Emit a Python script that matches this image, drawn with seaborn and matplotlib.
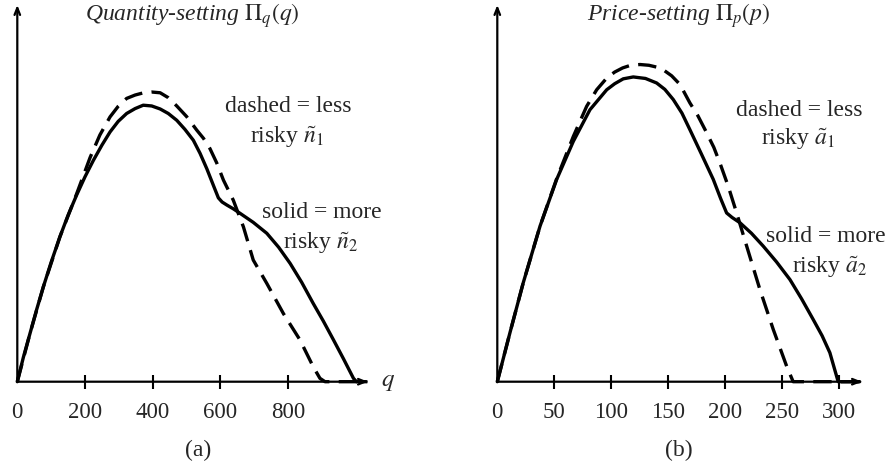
import numpy as np
import matplotlib
matplotlib.use("Agg")
import matplotlib.pyplot as plt
import seaborn as sns

# Values (profit in arbitrary units, axis top = 100)
q_solid = [0, 18, 37.5, 57, 77, 100, 126, 150, 175, 200, 225, 250, 274, 298, 323, 348,
           372, 397, 422, 446, 471, 495, 520, 540, 560, 582, 594, 605, 619, 638, 658,
           697, 737, 772, 806, 840, 874, 904, 934, 964, 993, 1002, 1030]
pi_q_solid = [0, 6.5, 12.8, 19.1, 25.2, 31.7, 38.5, 44.2, 49.5, 54.4, 58.8, 62.8, 66.3,
              69.1, 71.2, 72.5, 73.4, 73.2, 72.4, 71.2, 69.4, 67.0, 64.1, 60.6, 56.5,
              51.5, 48.8, 47.7, 46.9, 45.9, 44.7, 42.3, 39.4, 35.7, 31.4, 26.4, 20.8,
              16.1, 11.1, 6.0, 0.9, 0, 0]
q_dashed = [0, 37.5, 77, 126, 175, 215, 244, 274, 298, 323, 348, 373, 397, 422, 446,
            471, 500, 530, 550, 569, 589, 609, 638, 668, 697, 737, 786, 835, 874, 894,
            909, 1034]
pi_q_dashed = [0, 12.8, 25.2, 38.5, 49.8, 59.5, 65.5, 70.3, 73.1, 75.2, 76.1, 76.7, 76.9,
               76.7, 75.4, 73.2, 70.4, 66.8, 64.6, 61.9, 58.1, 53.5, 48.2, 41.1, 32.3,
               26.1, 18.1, 11.1, 4.0, 0.9, 0, 0]

p_solid = [0, 11.1, 22.8, 37.5, 52.1, 66.7, 81.3, 96, 103, 110.5, 119.3, 130, 139.8,
           147, 154.4, 162, 169, 179, 189.5, 196, 201.2, 206, 212.9, 223, 233.3, 245,
           256.8, 267, 277.2, 285, 291.8, 299.1, 318]
pi_p_solid = [0, 13, 26.3, 41.3, 53.7, 63.8, 72.2, 77.5, 79.1, 80.4, 80.9, 80.5, 79.3,
              77.6, 74.9, 71.3, 66.9, 60.5, 53.7, 48.6, 44.8, 43.6, 42.2, 39.4, 36,
              31.8, 27.1, 22.0, 16.5, 12.2, 7.7, 0, 0]
p_dashed = [0, 11.1, 22.8, 37.5, 52.1, 66.7, 78.4, 87.2, 96, 103, 110, 117, 125.2, 133,
            140, 145.6, 153, 160.3, 169, 176, 183, 190, 196, 202.6, 210, 218.8, 230.4,
            242.1, 253.9, 259.6, 319.6]
pi_p_dashed = [0, 13, 26.3, 41.3, 53.9, 65.1, 73.1, 77.5, 80.6, 82.2, 83.3, 84.0, 84.2,
               84.0, 83.5, 82.8, 81.2, 78.9, 74.0, 70.6, 66.5, 62.2, 57.5, 51.9, 44.8,
               36, 24.5, 13.9, 4.1, 0, 0]

q_ticks = [200, 400, 600, 800]
q_labels = ["0", "200", "400", "600", "800"]
p_ticks = [50, 100, 150, 200, 250, 300]
p_labels = ["0", "50", "100", "150", "200", "250", "300"]

sns.set_style("white")
plt.rcParams['font.family'] = ['Liberation Serif', 'DejaVu Serif']
plt.rcParams['mathtext.fontset'] = 'stix'

W, H = 893, 471
fig = plt.figure(figsize=(W / 100, H / 100), dpi=100)

def fx(px):
    return px / W

def fy(py):
    return 1 - py / H

base, top = 381.7, 5.0
ax_a = fig.add_axes([fx(17.3), fy(base), (368 - 17.3) / W, (base - top) / H])
ax_b = fig.add_axes([fx(497.3), fy(base), (862 - 497.3) / W, (base - top) / H])

panels = [
    (ax_a, q_solid, pi_q_solid, q_dashed, pi_q_dashed, 1036, q_ticks, q_labels),
    (ax_b, p_solid, pi_p_solid, p_dashed, pi_p_dashed, 320, p_ticks, p_labels),
]

for ax, xs, ys, xd, yd, xmax, ticks, labels in panels:
    sns.lineplot(x=xs, y=ys, ax=ax, color="black", lw=2.4, estimator=None,
                 clip_on=False, solid_joinstyle="round")
    sns.lineplot(x=xd, y=yd, ax=ax, color="black", lw=2.4, estimator=None,
                 linestyle=(0, (5.5, 2.8)), clip_on=False)
    ax.set_xlim(0, xmax)
    ax.set_ylim(0, 100)
    for s in ax.spines.values():
        s.set_visible(False)
    ax.set_yticks([])
    ax.set_xticks(ticks)
    ax.set_xticklabels([])
    ax.tick_params(axis="x", direction="inout", length=10, width=1.5, color="black",
                   bottom=True)
    # axis arrows
    ax.annotate("", xy=(1, 0), xytext=(0, 0), xycoords="axes fraction",
                arrowprops=dict(arrowstyle="->,head_length=0.5,head_width=0.2",
                                lw=1.6, color="black", shrinkA=0, shrinkB=0))
    ax.annotate("", xy=(0, 1), xytext=(0, 0), xycoords="axes fraction",
                arrowprops=dict(arrowstyle="->,head_length=0.5,head_width=0.2",
                                lw=1.6, color="black", shrinkA=0, shrinkB=0))
    ax.grid(False)

# tick labels
for ax, ticks, labels in [(ax_a, q_ticks, q_labels), (ax_b, p_ticks, p_labels)]:
    for t, lab in zip([0] + ticks, labels):
        ax.text(t, -8.3, lab, ha="center", va="center", fontsize=16.5, clip_on=False)

fs = 17
fig.text(fx(192.5), fy(16), r"Quantity-setting $\Pi_q(q)$", ha="center", va="center",
         fontsize=fs, style="italic")
fig.text(fx(679), fy(16), r"Price-setting $\Pi_p(p)$", ha="center", va="center",
         fontsize=fs, style="italic")
fig.text(fx(388), fy(382), r"$q$", ha="center", va="center", fontsize=fs + 1)

fig.text(fx(288), fy(107), "dashed = less", ha="center", va="center", fontsize=fs)
fig.text(fx(287), fy(137), r"risky $\tilde{n}_1$", ha="center", va="center", fontsize=fs)
fig.text(fx(322), fy(213), "solid = more", ha="center", va="center", fontsize=fs)
fig.text(fx(321), fy(243), r"risky $\tilde{n}_2$", ha="center", va="center", fontsize=fs)

fig.text(fx(799.5), fy(110), "dashed = less", ha="center", va="center", fontsize=fs)
fig.text(fx(797.5), fy(139), r"risky $\tilde{a}_1$", ha="center", va="center", fontsize=fs)
fig.text(fx(826), fy(237), "solid = more", ha="center", va="center", fontsize=fs)
fig.text(fx(829.5), fy(267), r"risky $\tilde{a}_2$", ha="center", va="center", fontsize=fs)

fig.text(fx(198), fy(450), "(a)", ha="center", va="center", fontsize=fs)
fig.text(fx(679), fy(450), "(b)", ha="center", va="center", fontsize=fs)

plt.savefig("out.png", dpi=100)
